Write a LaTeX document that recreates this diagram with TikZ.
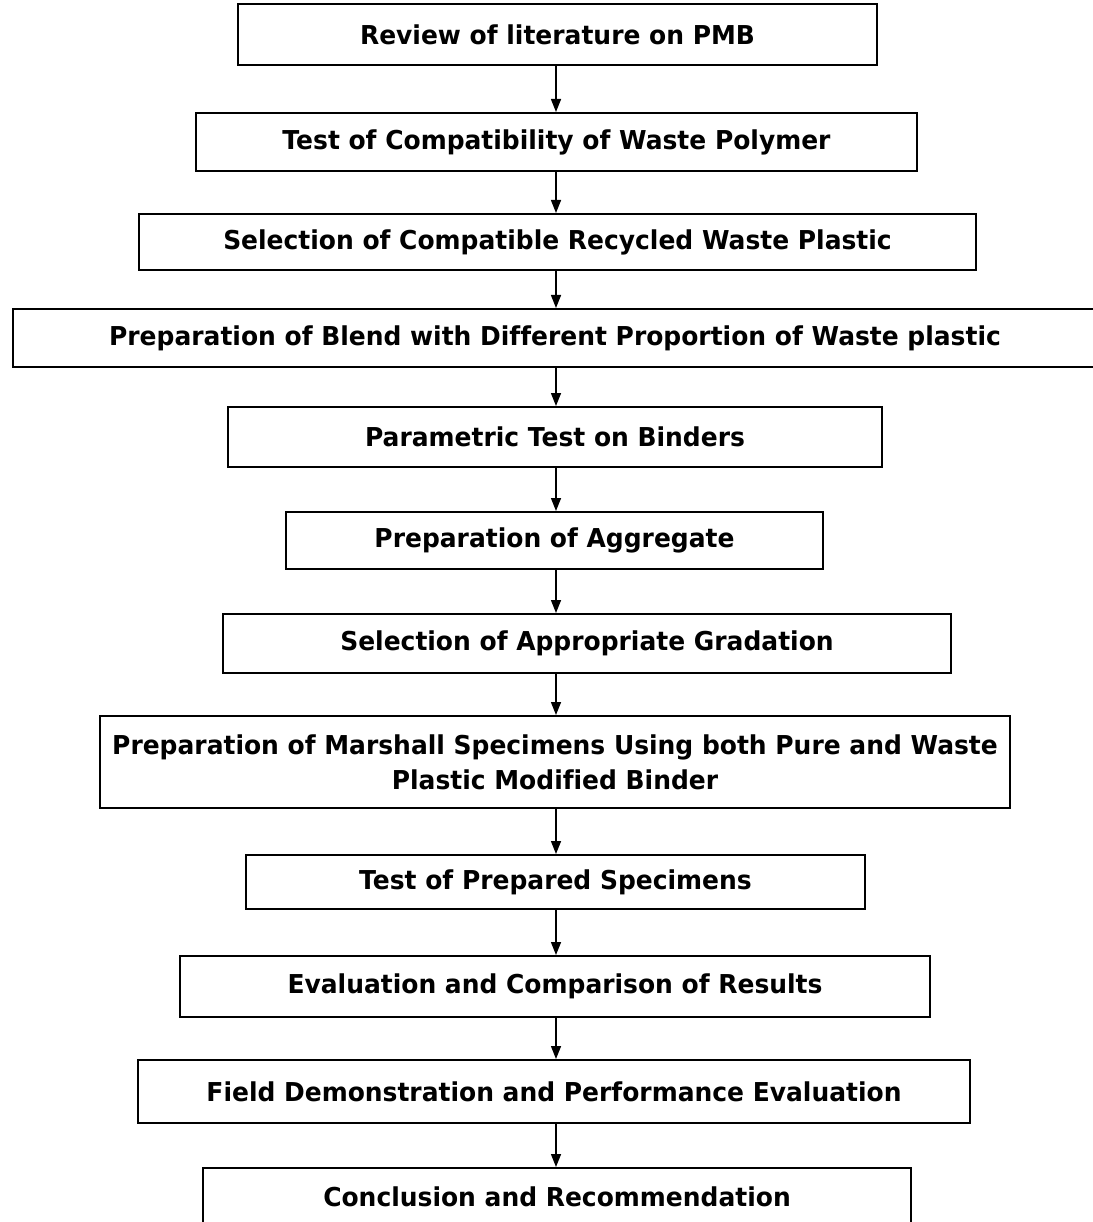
\documentclass[tikz,border=0pt]{standalone}
\usepackage{fontspec}
\setmainfont{DejaVu Sans}[Ligatures=NoCommon,BoldFont={DejaVu Sans Bold},BoldFeatures={FakeStretch=0.96}]
\usetikzlibrary{arrows.meta}
\tikzset{
  box/.style={draw=black, line width=2pt, rectangle, inner sep=0pt, align=center,
    font=\fontsize{26}{35}\selectfont\bfseries},
  arr/.style={draw=black, line width=1.4pt, -{Triangle[length=13pt,width=10pt]}}
}
\begin{document}
\begin{tikzpicture}[x=1pt,y=-1pt]
\useasboundingbox (0,0) rectangle (1092,1222);
\fill[white] (0,0) rectangle (1092,1222);
\coordinate (ax) at (556,0);
% left, top, right, bottom
\node[box, minimum width=639pt, minimum height=61pt] (b1) at (557.5,34.5) {Review of literature on PMB};
\node[box, minimum width=721pt, minimum height=58pt] (b2) at (556.5,142) {Test of Compatibility of Waste Polymer};
\node[box, minimum width=837pt, minimum height=56pt] (b3) at (557.5,242) {Selection of Compatible Recycled Waste Plastic};
\node[box, minimum width=1084pt, minimum height=58pt] (b4) at (555,338) {Preparation of Blend with Different Proportion of Waste plastic};
\node[box, minimum width=654pt, minimum height=60pt] (b5) at (555,437) {Parametric Test on Binders};
\node[box, minimum width=537pt, minimum height=57pt] (b6) at (554.5,540.5) {Preparation of Aggregate};
\node[box, minimum width=728pt, minimum height=59pt] (b7) at (587,643.5) {Selection of Appropriate Gradation};
\node[box, minimum width=910pt, minimum height=92pt] (b8) at (555,762) {Preparation of Marshall Specimens Using both Pure and Waste\\Plastic Modified Binder};
\node[box, minimum width=619pt, minimum height=54pt] (b9) at (555.5,882) {Test of Prepared Specimens};
\node[box, minimum width=750pt, minimum height=61pt] (b10) at (555,986.5) {Evaluation and Comparison of Results};
\node[box, minimum width=832pt, minimum height=63pt] (b11) at (554,1091.5) {Field Demonstration and Performance Evaluation};
\node[box, minimum width=708pt, minimum height=58pt] (b12) at (557,1197) {Conclusion and Recommendation};
\foreach \a/\b in {b1/b2,b2/b3,b3/b4,b4/b5,b5/b6,b6/b7,b7/b8,b8/b9,b9/b10,b10/b11,b11/b12}
  \draw[arr] (\a.south -| ax) -- (\b.north -| ax);
\end{tikzpicture}
\end{document}
